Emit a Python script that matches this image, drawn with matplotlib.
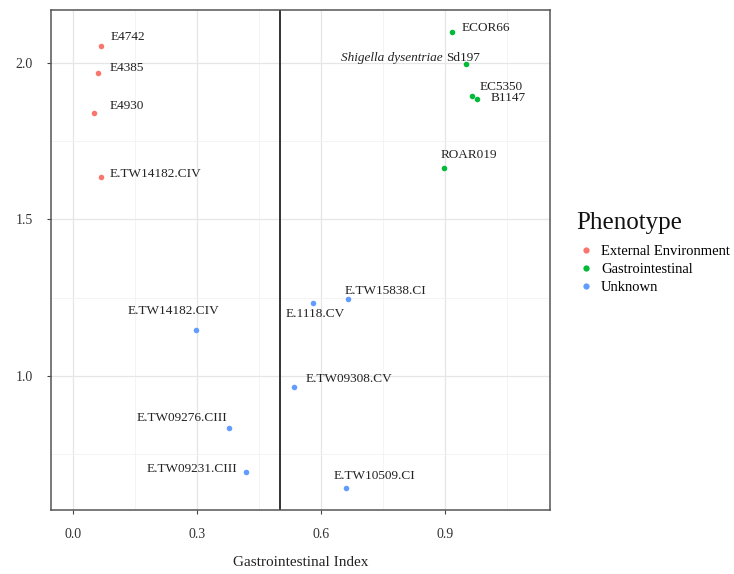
import matplotlib
matplotlib.use("Agg")
import matplotlib.pyplot as plt
from matplotlib.lines import Line2D

plt.rcParams['font.family'] = ['Liberation Serif', 'DejaVu Serif']

# strain data
names = ["E4742", "E4385", "E4930", "E.TW14182.CIV",
         "ECOR66", "Shigella dysentriae Sd197", "EC5350", "B1147", "ROAR019",
         "E.TW14182.CIV", "E.TW09276.CIII", "E.TW09231.CIII", "E.1118.CV",
         "E.TW15838.CI", "E.TW09308.CV", "E.TW10509.CI"]
gi_index = [0.069, 0.060, 0.052, 0.068,
            0.918, 0.951, 0.965, 0.977, 0.898,
            0.298, 0.377, 0.420, 0.581, 0.666, 0.536, 0.660]
yvals = [2.054, 1.969, 1.839, 1.637,
         2.098, 1.997, 1.895, 1.886, 1.664,
         1.146, 0.833, 0.694, 1.234, 1.245, 0.965, 0.641]
phenotype = ["External Environment"] * 4 + ["Gastrointestinal"] * 5 + ["Unknown"] * 7
categories = ["External Environment", "Gastrointestinal", "Unknown"]
xticks = [0.0, 0.3, 0.6, 0.9]
yticks = [1.0, 1.5, 2.0]

colors = {"External Environment": "#F8766D", "Gastrointestinal": "#00BA38",
          "Unknown": "#619CFF"}

# label placement (pixel offsets from point, ha)
label_pos = [(9, 9, 'left'), (12, 5, 'left'), (15, 7, 'left'), (9, 3, 'left'),
             (9, 4, 'left'), (14, 6, 'right'), (8, 9, 'left'), (14, 1, 'left'),
             (25, 13, 'center'), (-23, 19, 'center'), (-1, 10, 'right'),
             (-9, 3, 'right'), (-27, -11, 'left'), (-4, 8, 'left'),
             (11, 8, 'left'), (-12, 12, 'left')]

fig = plt.figure(figsize=(7.34, 5.74), dpi=100)
ax = fig.add_axes([0.0695, 0.1115, 0.6795, 0.871])

for cat in categories:
    xs = [x for x, p in zip(gi_index, phenotype) if p == cat]
    ys = [y for y, p in zip(yvals, phenotype) if p == cat]
    ax.scatter(xs, ys, s=16, color=colors[cat], zorder=3, linewidths=0)

for name, x, y, (dx, dy, ha) in zip(names, gi_index, yvals, label_pos):
    if name.startswith("Shigella"):
        # italic genus/species, upright strain id
        ax.annotate("Shigella dysentriae ", (x, y), xytext=(dx - 34, dy),
                    textcoords='offset pixels', ha='right', va='center',
                    fontsize=9.5, style='italic', color='#222222')
        ax.annotate("Sd197", (x, y), xytext=(dx - 34, dy),
                    textcoords='offset pixels', ha='left', va='center',
                    fontsize=9.5, color='#222222')
        continue
    ax.annotate(name, (x, y), xytext=(dx, dy), textcoords='offset pixels',
                ha=ha, va='center', fontsize=9.5, color='#222222')

ax.axvline(0.5, color='#333333', lw=1.4, zorder=2)

ax.set_xlim(-0.053, 1.154)
ax.set_ylim(0.572, 2.169)
ax.set_xticks(xticks)
ax.set_xticklabels(["%.1f" % v for v in xticks])
ax.set_yticks(yticks)
ax.set_yticklabels(["%.1f" % v for v in yticks])
ax.set_xticks([0.15, 0.45, 0.75, 1.05], minor=True)
ax.set_yticks([0.75, 1.25, 1.75], minor=True)
ax.grid(True, which='major', color='#E6E6E6', lw=0.9, zorder=0)
ax.grid(True, which='minor', color='#F2F2F2', lw=0.6, zorder=0)
ax.tick_params(which='minor', length=0)
ax.tick_params(which='major', length=3, color='#444444', labelsize=10,
               labelcolor='#333333')
ax.tick_params(axis='x', pad=10)
ax.tick_params(axis='y', pad=10)
for sp in ax.spines.values():
    sp.set_color('#555555')
    sp.set_linewidth(1.1)

ax.set_xlabel("Gastrointestinal Index", fontsize=11, color='#222222', labelpad=11)

fig.text(0.785, 1 - 223 / 574, "Phenotype", fontsize=18, ha='left', va='center',
         color='#111111')
handles = [Line2D([], [], marker='o', ls='', markersize=4.5, color=colors[c],
                  markeredgewidth=0) for c in categories]
leg = fig.legend(handles, categories, loc='upper left',
                 bbox_to_anchor=(0.788, 1 - 245 / 574), frameon=False, fontsize=10.5,
                 handlelength=1.0, handletextpad=0.55,
                 labelspacing=0.32, borderaxespad=0, borderpad=0)

fig.savefig("out.png", dpi=100)
